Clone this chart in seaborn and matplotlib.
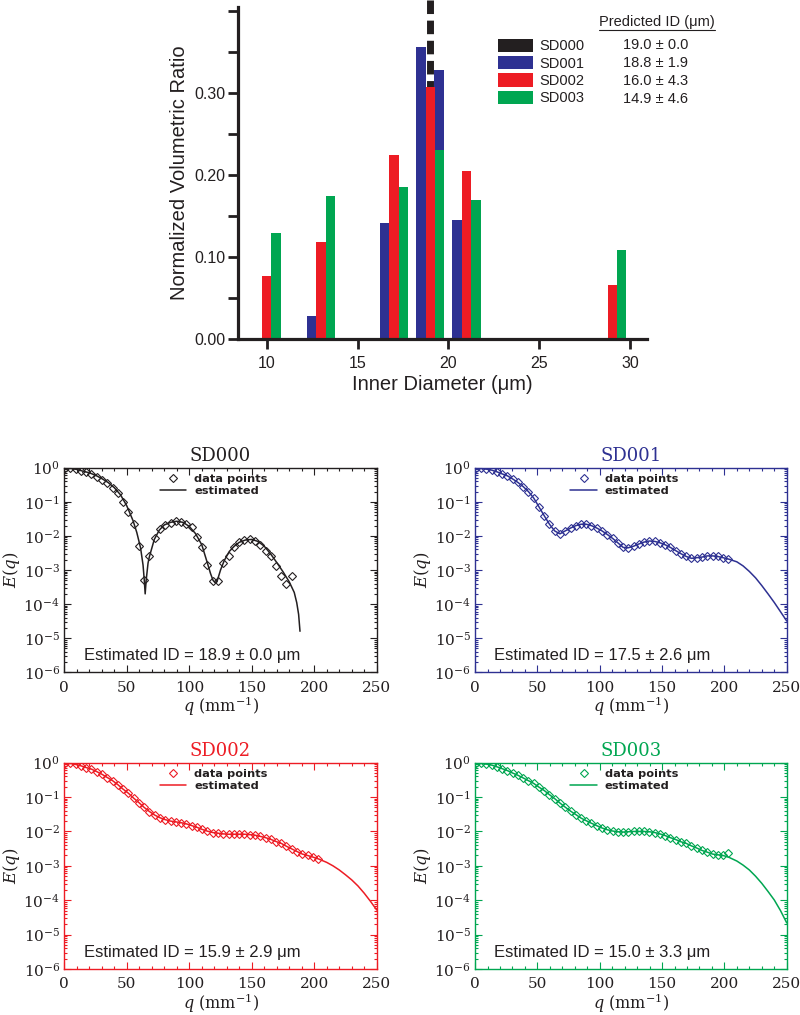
import matplotlib
matplotlib.use("Agg")
import matplotlib.pyplot as plt
import seaborn as sns
import numpy as np
import pandas as pd
from matplotlib.patches import Patch
from matplotlib.lines import Line2D
from matplotlib.ticker import MultipleLocator, LogLocator, NullFormatter

sns.set_style("ticks")
plt.rcParams['font.family'] = ['Liberation Sans', 'DejaVu Sans']
plt.rcParams['mathtext.fontset'] = 'dejavuserif'
plt.rcParams['text.color'] = '#231f20'

# ---- data -------------------------------------------------------------
samples = ["SD000", "SD001", "SD002", "SD003"]
colors = ["#231f20", "#2e3192", "#ed1c24", "#00a651"]
predicted_id = ["19.0 ± 0.0", "18.8 ± 1.9", "16.0 ± 4.3", "14.9 ± 4.6"]
estimated_id = ["18.9 ± 0.0", "17.5 ± 2.6", "15.9 ± 2.9", "15.0 ± 3.3"]
sd000_peak = 19.0

# volumetric histograms (inner diameter in um)
sd001_bins = [13, 17, 19, 20, 21]
sd001_ratio = [0.028, 0.142, 0.356, 0.328, 0.145]
sd002_bins = [10, 13, 17, 19, 21, 29]
sd002_ratio = [0.077, 0.118, 0.224, 0.308, 0.205, 0.066]
sd003_bins = [10, 13, 17, 19, 21, 29]
sd003_ratio = [0.129, 0.174, 0.186, 0.231, 0.170, 0.109]

# measured q values (mm^-1)
q_pts = [0.6, 4.8, 9.0, 13.3, 17.5, 21.7, 25.9, 30.1, 34.4, 38.6, 42.8, 47.0,
         51.2, 55.5, 59.7, 63.9, 68.1, 72.3, 76.6, 80.8, 85.0, 89.2, 93.4, 97.7,
         101.9, 106.1, 110.3, 114.5, 118.8, 123.0, 127.2, 131.4, 135.6, 139.9,
         144.1, 148.3, 152.5, 156.7, 161.0, 165.2, 169.4, 173.6, 177.8, 182.1,
         186.3, 190.5, 194.7, 198.9, 203.2]

sd000_e = [1.0, 0.955, 0.89, 0.81, 0.74, 0.65, 0.55, 0.44, 0.35, 0.25, 0.18, 0.10,
           0.051, 0.022, 5.1e-3, 5.1e-4, 2.5e-3, 8.9e-3, 0.0155, 0.021, 0.0245,
           0.0275, 0.026, 0.0224, 0.0178, 9.1e-3, 4.8e-3, 1.4e-3, 4.8e-4, 4.8e-4,
           1.66e-3, 2.6e-3, 4.8e-3, 6.8e-3, 7.6e-3, 7.9e-3, 7.1e-3, 5.4e-3,
           3.5e-3, 2.6e-3, 1.3e-3, 6.8e-4, 3.9e-4, 6.9e-4]
sd001_e = [0.98, 0.95, 0.91, 0.85, 0.76, 0.66, 0.58, 0.47, 0.37, 0.28, 0.20, 0.13,
           0.072, 0.039, 0.022, 0.014, 0.0115, 0.014, 0.017, 0.020, 0.022, 0.022,
           0.020, 0.017, 0.014, 0.011, 0.0085, 0.0063, 0.0046, 0.0045, 0.0050,
           0.0058, 0.0066, 0.0071, 0.0069, 0.0063, 0.0055, 0.0046, 0.0037, 0.0030,
           0.0025, 0.0022, 0.0023, 0.0024, 0.0026, 0.0026, 0.0025, 0.0023, 0.0021]
sd002_e = [0.98, 0.95, 0.89, 0.81, 0.72, 0.65, 0.55, 0.46, 0.37, 0.30, 0.23, 0.17,
           0.13, 0.093, 0.069, 0.050, 0.038, 0.030, 0.025, 0.022, 0.020, 0.019,
           0.018, 0.0166, 0.0148, 0.0132, 0.0115, 0.0102, 0.0093, 0.0089, 0.0085,
           0.0083, 0.0083, 0.0083, 0.0083, 0.0081, 0.0078, 0.0072, 0.0066, 0.0059,
           0.0051, 0.0045, 0.0037, 0.0031, 0.0026, 0.0022, 0.0020, 0.0018, 0.0016]
sd003_e = [0.98, 0.95, 0.91, 0.85, 0.76, 0.67, 0.59, 0.50, 0.43, 0.36, 0.30, 0.25,
           0.195, 0.155, 0.117, 0.090, 0.067, 0.051, 0.039, 0.031, 0.0245, 0.0205,
           0.0173, 0.0147, 0.0126, 0.0112, 0.0103, 0.0098, 0.0096, 0.0098, 0.0100,
           0.0100, 0.0100, 0.0098, 0.0093, 0.0085, 0.0076, 0.0066, 0.0058, 0.0050,
           0.0045, 0.0038, 0.0033, 0.0028, 0.0025, 0.0022, 0.0021, 0.0020, 0.0023]

# estimated curves
sd000_fit_q = [0, 5, 10, 15, 20, 25, 30, 35, 40, 45, 50, 55, 58, 61, 63, 64, 64.7,
               65.5, 67, 68, 72, 76, 80, 85, 90, 95, 100, 105, 110, 114.5, 117, 119,
               120.8, 122.5, 125, 128, 132, 136, 140, 145, 150, 155, 160, 165, 170,
               175, 180, 184, 186, 187.5, 188.6]
sd000_fit_e = [1.0, 0.955, 0.89, 0.79, 0.71, 0.60, 0.48, 0.37, 0.26, 0.16, 0.076,
               0.028, 0.0126, 4.5e-3, 1.4e-3, 5.0e-4, 2.0e-4, 5.0e-4, 1.6e-3, 2.4e-3,
               7.9e-3, 0.0148, 0.021, 0.025, 0.027, 0.025, 0.019, 0.0117, 5.5e-3,
               1.6e-3, 7.9e-4, 5.0e-4, 4.2e-4, 5.0e-4, 1.0e-3, 1.9e-3, 3.5e-3, 5.0e-3,
               6.5e-3, 7.6e-3, 7.9e-3, 6.9e-3, 5.0e-3, 3.0e-3, 1.66e-3, 8.9e-4,
               4.5e-4, 2.2e-4, 1.1e-4, 5.0e-5, 1.6e-5]
tail_q = [210, 215, 220, 225, 230, 235, 240, 245, 250]
sd001_tail_e = [1.74e-3, 1.32e-3, 9.1e-4, 5.9e-4, 3.5e-4, 2.0e-4, 1.12e-4, 6.0e-5, 3.2e-5]
sd002_tail_e = [1.26e-3, 1.0e-3, 7.6e-4, 5.5e-4, 3.9e-4, 2.6e-4, 1.6e-4, 9.3e-5, 5.2e-5]
sd003_tail_e = [1.38e-3, 1.05e-3, 7.6e-4, 5.0e-4, 3.1e-4, 1.8e-4, 1.02e-4, 5.0e-5, 2.2e-5]
sd003_fit_end = 1.8e-3

# ---- figure -----------------------------------------------------------
fig = plt.figure(figsize=(8, 10.15), dpi=100)
ink = '#231f20'

# top: volumetric histogram
ax0 = fig.add_axes([0.2975, 0.666, 0.511, 0.327])
hist = pd.DataFrame({
    "diameter": sd001_bins + sd002_bins + sd003_bins,
    "ratio": sd001_ratio + sd002_ratio + sd003_ratio,
    "sample": ["SD001"] * len(sd001_bins) + ["SD002"] * len(sd002_bins)
              + ["SD003"] * len(sd003_bins),
})
sns.barplot(data=hist, x="diameter", y="ratio", hue="sample", hue_order=samples[1:],
            palette=dict(zip(samples[1:], colors[1:])), native_scale=True,
            orient="x", width=1.56, dodge=True, saturation=1, errorbar=None,
            linewidth=0, legend=False, ax=ax0, zorder=2)
ax0.set_xlim(8.43, 30.9)
ax0.set_ylim(0, 0.405)
top = ax0.get_ylim()[1] * 1.022
ax0.plot([sd000_peak, sd000_peak], [top, 0], color=colors[0], lw=5,
         dashes=(1.95, 0.95), dash_capstyle='butt', zorder=1, clip_on=False)

ax0.set_xticks([10, 15, 20, 25, 30])
ax0.set_yticks([0.0, 0.1, 0.2, 0.3])
ax0.set_yticklabels(["0.00", "0.10", "0.20", "0.30"])
ax0.yaxis.set_minor_locator(MultipleLocator(0.05))
ax0.tick_params(axis='both', which='both', direction='out', length=7, width=2,
                color=ink, labelsize=11.5, labelcolor=ink)
ax0.tick_params(axis='y', which='major', pad=2)
ax0.tick_params(axis='x', which='major', pad=5)
sns.despine(ax=ax0)
for side in ['left', 'bottom']:
    ax0.spines[side].set_linewidth(2.3)
    ax0.spines[side].set_color(ink)
ax0.set_xlabel("Inner Diameter (μm)", fontsize=14.5, labelpad=3, color=ink)
ax0.set_ylabel("Normalized Volumetric Ratio", fontsize=14.5, labelpad=4, color=ink)

fig.legend(handles=[Patch(facecolor=c, linewidth=0) for c in colors], labels=samples,
           loc='upper left', bbox_to_anchor=(0.6225, 0.962), frameon=False,
           fontsize=10.5, handlelength=2.4, handleheight=1.03, handletextpad=0.41,
           labelspacing=0.19, borderpad=0, borderaxespad=0, labelcolor=ink)
for i, txt in enumerate(predicted_id):
    fig.text(0.779, 1 - (45 + 18 * i) / 1015, txt, va='center', fontsize=10.5, color=ink)
head = fig.text(0.749, 1 - 22 / 1015, "Predicted ID (μm)", va='center',
                fontsize=10.5, color=ink)
fig.canvas.draw()
bb = head.get_window_extent()
W, H = fig.bbox.width, fig.bbox.height
fig.add_artist(Line2D([bb.x0 / W, bb.x1 / W], [(bb.y0 - 0.5) / H] * 2,
                      transform=fig.transFigure, lw=0.8, color=ink))

# bottom: signal decay panels
panel_pos = [[0.0804, 0.3376, 0.3905, 0.2016], [0.5938, 0.3376, 0.3896, 0.2016],
             [0.0804, 0.0453, 0.3905, 0.2033], [0.5938, 0.0453, 0.3896, 0.2033]]
points = [sd000_e, sd001_e, sd002_e, sd003_e]
fits = [
    (sd000_fit_q, sd000_fit_e),
    (q_pts + tail_q, sd001_e + sd001_tail_e),
    (q_pts + tail_q, sd002_e + sd002_tail_e),
    (q_pts + tail_q, sd003_e[:-1] + [sd003_fit_end] + sd003_tail_e),
]
decades = [1e-6, 1e-5, 1e-4, 1e-3, 1e-2, 1e-1, 1e0]
decade_labels = [r'$10^{-6}$', r'$10^{-5}$', r'$10^{-4}$', r'$10^{-3}$',
                 r'$10^{-2}$', r'$10^{-1}$', r'$10^{0}$']

for i, name in enumerate(samples):
    ax = fig.add_axes(panel_pos[i])
    col = colors[i]
    e = points[i]
    fq, fe = fits[i]
    ax.set_yscale('log')
    sns.lineplot(x=fq, y=fe, estimator=None, color=col, lw=1.1, ax=ax,
                 label="estimated")
    sns.lineplot(x=q_pts[:len(e)], y=e, estimator=None, color=col, marker='D',
                 linestyle='', mfc='none', mec=col, mew=0.8, ms=3.8, ax=ax,
                 label="data points")
    ax.set_xlim(0, 250)
    ax.set_ylim(1e-6, 1)
    ax.set_xticks([0, 50, 100, 150, 200, 250])
    ax.xaxis.set_minor_locator(MultipleLocator(10))
    ax.set_yticks(decades)
    ax.set_yticklabels(decade_labels)
    ax.yaxis.set_minor_locator(LogLocator(base=10, subs=np.arange(2, 10), numticks=20))
    ax.yaxis.set_minor_formatter(NullFormatter())
    ax.tick_params(axis='both', which='both', direction='in', top=True, right=True,
                   color=col, width=0.8, labelsize=11, labelcolor=ink,
                   labelfontfamily='DejaVu Serif')
    ax.tick_params(which='major', length=5)
    ax.tick_params(which='minor', length=2.5)
    ax.tick_params(axis='x', which='major', pad=6)
    ax.tick_params(axis='y', which='major', pad=3)
    for s in ax.spines.values():
        s.set_color(col)
        s.set_linewidth(1.0)
    ax.set_title(name, color=col, fontfamily='DejaVu Serif', fontsize=13, pad=5)
    ax.set_xlabel(r'$q\ \mathrm{(mm^{-1})}$', fontsize=11.5, labelpad=0, color=ink)
    ax.set_ylabel(r'$E(q)$', fontsize=12, labelpad=1, color=ink)
    ax.text(0.062, 0.082, f"Estimated ID = {estimated_id[i]} μm", transform=ax.transAxes,
            fontsize=12, va='center', ha='left', color=ink)
    h, l = ax.get_legend_handles_labels()
    ax.legend(handles=[h[1], h[0]], labels=[l[1], l[0]], loc='upper left',
              bbox_to_anchor=(0.306, 0.968), frameon=False, numpoints=1,
              prop=dict(family='DejaVu Sans', weight='bold', size=8.2),
              handlelength=2.3, handletextpad=0.7, labelspacing=0.15,
              borderpad=0, borderaxespad=0)

fig.savefig("out.png", dpi=100)
